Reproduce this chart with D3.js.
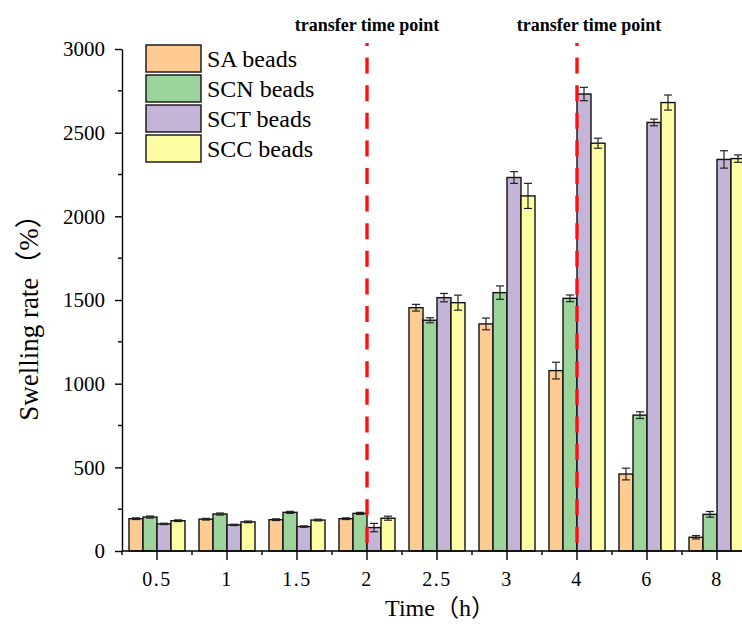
<!DOCTYPE html>
<html>
<head>
<meta charset="utf-8">
<script src="https://cdn.jsdelivr.net/npm/d3@7"></script>
<style>
    body { margin: 0; background: #fff; }
    svg { display: block; }
    text { font-family: "Liberation Serif", "Times New Roman", "Noto Sans CJK SC", serif; fill: #000; }
    .axis path, .axis line { stroke: #000; stroke-width: 1.4; }
</style>
</head>
<body>
<div id="chart"></div>
<script>
// Swelling rate of the four bead types over time.
const categories = ["0.5", "1", "1.5", "2", "2.5", "3", "4", "6", "8"];
const seriesNames = ["SA beads", "SCN beads", "SCT beads", "SCC beads"];

const saValues  = [193, 190, 187, 193, 1454, 1357, 1078, 460, 82];
const scnValues = [203, 221, 231, 225, 1379, 1544, 1510, 812, 219];
const sctValues = [162, 156, 146, 140, 1514, 2232, 2731, 2561, 2340];
const sccValues = [181, 174, 185, 196, 1484, 2122, 2437, 2680, 2345];

const saErrors  = [5, 5, 5, 5, 20, 35, 50, 35, 10];
const scnErrors = [6, 6, 6, 6, 15, 40, 20, 20, 17];
const sctErrors = [4, 4, 4, 25, 25, 35, 40, 20, 52];
const sccErrors = [5, 5, 5, 12, 45, 75, 30, 45, 22];

const yTicks = [0, 500, 1000, 1500, 2000, 2500, 3000];
const yMinorTicks = [250, 750, 1250, 1750, 2250, 2750];
const transferPoints = ["2", "4"];

const colors = {
    "SA beads": "#FECB93",
    "SCN beads": "#9DD49B",
    "SCT beads": "#C4B4D8",
    "SCC beads": "#FFFDA4"
};

const serif = '"Liberation Serif", "Times New Roman", "Noto Sans CJK SC", serif';

const valuesBySeries = [saValues, scnValues, sctValues, sccValues];
const errorsBySeries = [saErrors, scnErrors, sctErrors, sccErrors];

const bars = [];
categories.forEach((cat, i) => {
    seriesNames.forEach((name, s) => {
        bars.push({ cat, name, value: valuesBySeries[s][i], error: errorsBySeries[s][i] });
    });
});

const width = 742;
const height = 628;
const axisLeft = 122;
const axisBottom = 551;
const axisTop = 49;

const svg = d3.select("#chart")
    .append("svg")
    .attr("width", width)
    .attr("height", height);

const x = d3.scaleBand()
    .domain(categories)
    .range([axisLeft, axisLeft + categories.length * 70])
    .paddingInner(0.2)
    .paddingOuter(0.1);

const xSub = d3.scaleBand()
    .domain(seriesNames)
    .range([0, x.bandwidth()]);

const y = d3.scaleLinear()
    .domain([0, 3000])
    .range([axisBottom, axisTop]);

// bars
svg.append("g")
    .selectAll("rect")
    .data(bars)
    .join("rect")
    .attr("x", d => x(d.cat) + xSub(d.name))
    .attr("y", d => y(d.value))
    .attr("width", xSub.bandwidth())
    .attr("height", d => y(0) - y(d.value))
    .attr("fill", d => colors[d.name])
    .attr("stroke", "#111")
    .attr("stroke-width", 1.4);

// error bars
const err = svg.append("g")
    .attr("stroke", "#222")
    .attr("stroke-width", 1.2)
    .selectAll("g")
    .data(bars)
    .join("g")
    .attr("transform", d => `translate(${x(d.cat) + xSub(d.name) + xSub.bandwidth() / 2},0)`);

err.append("line")
    .attr("y1", d => y(d.value - d.error))
    .attr("y2", d => y(d.value + d.error));
err.append("line")
    .attr("x1", -4).attr("x2", 4)
    .attr("y1", d => y(d.value + d.error))
    .attr("y2", d => y(d.value + d.error));
err.append("line")
    .attr("x1", -4).attr("x2", 4)
    .attr("y1", d => y(d.value - d.error))
    .attr("y2", d => y(d.value - d.error));

// x axis
const xAxis = svg.append("g")
    .attr("class", "axis")
    .attr("transform", `translate(0,${axisBottom})`)
    .call(d3.axisBottom(x).tickSize(9).tickPadding(12).tickSizeOuter(0));
xAxis.attr("font-family", null);
xAxis.select(".domain").attr("d", `M${axisLeft},0H${width}`);
xAxis.selectAll(".tick text")
    .style("font-family", serif)
    .style("font-size", "20px")
    .attr("letter-spacing", "1.5px");

const gap = x.step() - x.bandwidth();
xAxis.selectAll(".minor")
    .data(categories)
    .join("line")
    .attr("class", "minor")
    .attr("x1", d => x(d) - gap / 2)
    .attr("x2", d => x(d) - gap / 2)
    .attr("y1", 0)
    .attr("y2", 4);

// y axis
const yAxis = svg.append("g")
    .attr("class", "axis")
    .attr("transform", `translate(${axisLeft},0)`)
    .call(d3.axisLeft(y).tickValues(yTicks).tickFormat(d3.format("d"))
        .tickSize(7).tickPadding(10).tickSizeOuter(0));
yAxis.attr("font-family", null);
yAxis.selectAll(".tick text")
    .style("font-family", serif)
    .style("font-size", "21px");

yAxis.selectAll(".minor")
    .data(yMinorTicks)
    .join("line")
    .attr("class", "minor")
    .attr("x1", -4)
    .attr("x2", 0)
    .attr("y1", d => y(d))
    .attr("y2", d => y(d));

// transfer time point markers
svg.append("g")
    .selectAll("line")
    .data(transferPoints)
    .join("line")
    .attr("x1", d => x(d) + x.bandwidth() / 2)
    .attr("x2", d => x(d) + x.bandwidth() / 2)
    .attr("y1", 43)
    .attr("y2", axisBottom)
    .attr("stroke", "#FF1010")
    .attr("stroke-width", 3.4)
    .attr("stroke-dasharray", "16,11.6")
    .attr("stroke-dashoffset", 13);

svg.append("g")
    .selectAll("text")
    .data(transferPoints)
    .join("text")
    .attr("x", (d, i) => x(d) + x.bandwidth() / 2 + (i === 1 ? 12 : 0))
    .attr("y", 31)
    .attr("text-anchor", "middle")
    .style("font-family", serif)
    .style("font-weight", "bold")
    .style("font-size", "18px")
    .text("transfer time point");

// legend
const legend = svg.append("g")
    .selectAll("g")
    .data(seriesNames)
    .join("g")
    .attr("transform", (_, i) => `translate(146,${45 + i * 30})`);

legend.append("rect")
    .attr("width", 55)
    .attr("height", 27)
    .attr("fill", d => colors[d])
    .attr("stroke", "#111")
    .attr("stroke-width", 1.4);

legend.append("text")
    .attr("x", 61)
    .attr("y", 22)
    .style("font-family", serif)
    .style("font-size", "24px")
    .text(d => d);

// axis titles
svg.append("text")
    .attr("x", 440)
    .attr("y", 616)
    .attr("text-anchor", "middle")
    .style("font-family", serif)
    .style("font-size", "24px")
    .text("Time（h）");

svg.append("text")
    .attr("transform", "translate(38,311) rotate(-90)")
    .attr("text-anchor", "middle")
    .style("font-family", serif)
    .style("font-size", "27px")
    .text("Swelling rate（%）");
</script>
</body>
</html>
